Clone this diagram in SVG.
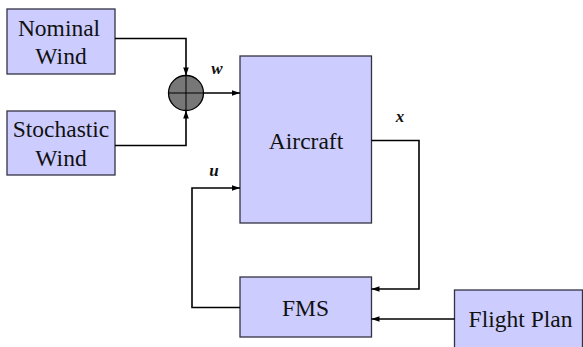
<svg xmlns="http://www.w3.org/2000/svg" width="583" height="347" viewBox="0 0 583 347">
<style>
.box{fill:#ccccff;stroke:#333344;stroke-width:1.3}
.lbl{font-family:"Liberation Serif",serif;font-size:23.5px;fill:#111;text-anchor:middle}
.var{font-family:"Liberation Serif",serif;font-size:17px;font-style:italic;font-weight:bold;fill:#111;text-anchor:middle}
.wire{fill:none;stroke:#000;stroke-width:1.6}
</style>
<defs>
<marker id="ah" viewBox="0 0 10 10" refX="10" refY="5" markerWidth="10" markerHeight="8" markerUnits="userSpaceOnUse" orient="auto">
<path d="M0,1.5 L10,5 L0,8.5 z" fill="#000"/>
</marker>
</defs>
<rect width="583" height="347" fill="#fff"/>
<g id="nominal">
<rect class="box" x="7" y="9" width="108" height="65"/>
<text class="lbl" x="59" y="36">Nominal</text>
<text class="lbl" x="61" y="64">Wind</text>
</g>
<g id="stochastic">
<rect class="box" x="7" y="111" width="108" height="64"/>
<text class="lbl" x="61" y="137">Stochastic</text>
<text class="lbl" x="61" y="166">Wind</text>
</g>
<g id="sum">
<circle cx="186" cy="93" r="17.5" fill="#777777" stroke="#000" stroke-width="1.3"/>
<line x1="168.5" y1="93" x2="203.5" y2="93" stroke="#000" stroke-width="1"/>
<line x1="186" y1="75.5" x2="186" y2="110.5" stroke="#000" stroke-width="1"/>
</g>
<g id="aircraft">
<rect class="box" x="240" y="56" width="131.5" height="167"/>
<text class="lbl" x="306" y="148.5">Aircraft</text>
</g>
<g id="fms">
<rect class="box" x="240" y="277" width="131.5" height="60"/>
<text class="lbl" x="305.5" y="315.5">FMS</text>
</g>
<g id="flightplan">
<rect class="box" x="454.5" y="290" width="128" height="58"/>
<text class="lbl" x="520.5" y="327">Flight Plan</text>
</g>
<g id="connectors">
<path class="wire" d="M115,38.5 H186 V75.5" marker-end="url(#ah)"/>
<path class="wire" d="M115,145.5 H186 V110.5" marker-end="url(#ah)"/>
<path class="wire" d="M203.5,93 H240" marker-end="url(#ah)"/>
<path class="wire" d="M240,307.5 H192 V188 H240" marker-end="url(#ah)"/>
<path class="wire" d="M371.5,140.5 H419 V289 H371.5" marker-end="url(#ah)"/>
<path class="wire" d="M454.5,319 H371.5" marker-end="url(#ah)"/>
</g>
<g id="labels">
<text class="var" x="217" y="74">w</text>
<text class="var" x="400" y="122">x</text>
<text class="var" x="214" y="176">u</text>
</g>
</svg>
